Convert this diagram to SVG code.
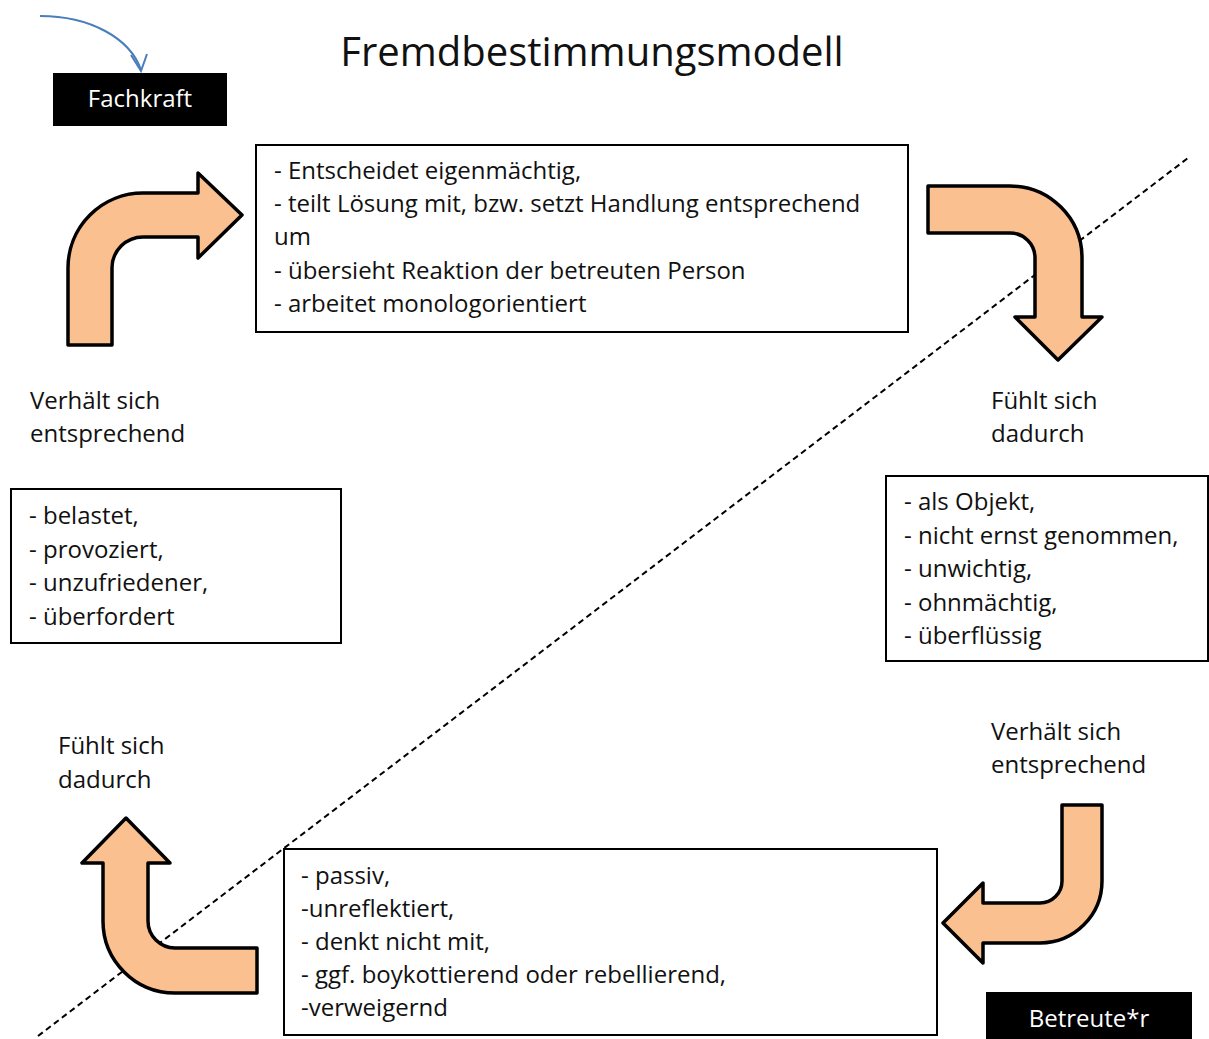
<svg xmlns="http://www.w3.org/2000/svg" width="1209" height="1039" viewBox="0 0 1209 1039">
<defs>
<style>
text{font-family:"Open Sans","Liberation Sans",sans-serif;fill:#111;}
.t{font-size:24px;}
.box{fill:#fff;stroke:#000;stroke-width:2;}
.tag{fill:#000;}
.tagt{font-size:24px;fill:#fff;text-anchor:middle;}
.arr{fill:#FAC090;stroke:#000;stroke-width:3.5;stroke-linejoin:round;}
</style>
</defs>
<rect width="1209" height="1039" fill="#fff"/>

<g id="connectors">
<line x1="38" y1="1036" x2="1188" y2="158" stroke="#000" stroke-width="2" stroke-dasharray="6,4"/>
<path d="M40,16 C90,16 130,38 141,70" fill="none" stroke="#4A7EBB" stroke-width="2"/>
<path d="M131,55 L141,71 L147,54" fill="none" stroke="#4A7EBB" stroke-width="2"/>
<path id="arrow-tl" class="arr" d="M68,345 L68,268 A75,75 0 0 1 143,193 L198,193 L198,173 L242,215 L198,258 L198,237 L143,237 A31,31 0 0 0 112,268 L112,345 Z"/>
<path id="arrow-tr" class="arr" d="M928,186 L1010,186 A72,72 0 0 1 1082,258 L1082,317 L1102,317 L1058,360 L1015,317 L1035,317 L1035,258 A25,25 0 0 0 1010,233 L928,233 Z"/>
<path id="arrow-br" class="arr" d="M1062,805 L1102,805 L1102,881 A62,62 0 0 1 1040,943 L983,943 L983,963 L943,923 L983,883 L983,903 L1040,903 A22,22 0 0 0 1062,881 Z"/>
<path id="arrow-bl" class="arr" d="M257,948 L175,948 A27,27 0 0 1 148,921 L148,863 L170,863 L126,818 L82,863 L103,863 L103,921 A72,72 0 0 0 175,993 L257,993 Z"/>
</g>

<g id="title"><text x="592" y="66" text-anchor="middle" style="font-size:40px">Fremdbestimmungsmodell</text></g>

<g id="fachkraft">
<rect class="tag" x="53" y="73" width="174" height="53"/>
<text class="tagt" x="140" y="107">Fachkraft</text>
</g>

<g id="betreute">
<rect class="tag" x="986" y="992" width="206" height="47"/>
<text class="tagt" x="1089" y="1027">Betreute*r</text>
</g>

<g id="box-top">
<rect class="box" x="256" y="145" width="652" height="187"/>
<text class="t" x="274" y="179">- Entscheidet eigenmächtig,</text>
<text class="t" x="274" y="212">- teilt Lösung mit, bzw. setzt Handlung entsprechend</text>
<text class="t" x="274" y="245">um</text>
<text class="t" x="274" y="279">- übersieht Reaktion der betreuten Person</text>
<text class="t" x="274" y="312">- arbeitet monologorientiert</text>
</g>

<g id="label-left-top">
<text class="t" x="30" y="409">Verhält sich</text>
<text class="t" x="30" y="442">entsprechend</text>
</g>

<g id="box-left">
<rect class="box" x="11" y="489" width="330" height="154"/>
<text class="t" x="29" y="524">- belastet,</text>
<text class="t" x="29" y="558">- provoziert,</text>
<text class="t" x="29" y="591">- unzufriedener,</text>
<text class="t" x="29" y="625">- überfordert</text>
</g>

<g id="label-right-top">
<text class="t" x="991" y="409">Fühlt sich</text>
<text class="t" x="991" y="442">dadurch</text>
</g>

<g id="box-right">
<rect class="box" x="886" y="476" width="322" height="185"/>
<text class="t" x="904" y="510">- als Objekt,</text>
<text class="t" x="904" y="544">- nicht ernst genommen,</text>
<text class="t" x="904" y="577">- unwichtig,</text>
<text class="t" x="904" y="611">- ohnmächtig,</text>
<text class="t" x="904" y="644">- überflüssig</text>
</g>

<g id="label-left-bottom">
<text class="t" x="58" y="754">Fühlt sich</text>
<text class="t" x="58" y="788">dadurch</text>
</g>

<g id="label-right-bottom">
<text class="t" x="991" y="740">Verhält sich</text>
<text class="t" x="991" y="773">entsprechend</text>
</g>

<g id="box-bottom">
<rect class="box" x="284" y="849" width="653" height="186"/>
<text class="t" x="301" y="884">- passiv,</text>
<text class="t" x="301" y="917">-unreflektiert,</text>
<text class="t" x="301" y="950">- denkt nicht mit,</text>
<text class="t" x="301" y="983">- ggf. boykottierend oder rebellierend,</text>
<text class="t" x="301" y="1016">-verweigernd</text>
</g>
</svg>
